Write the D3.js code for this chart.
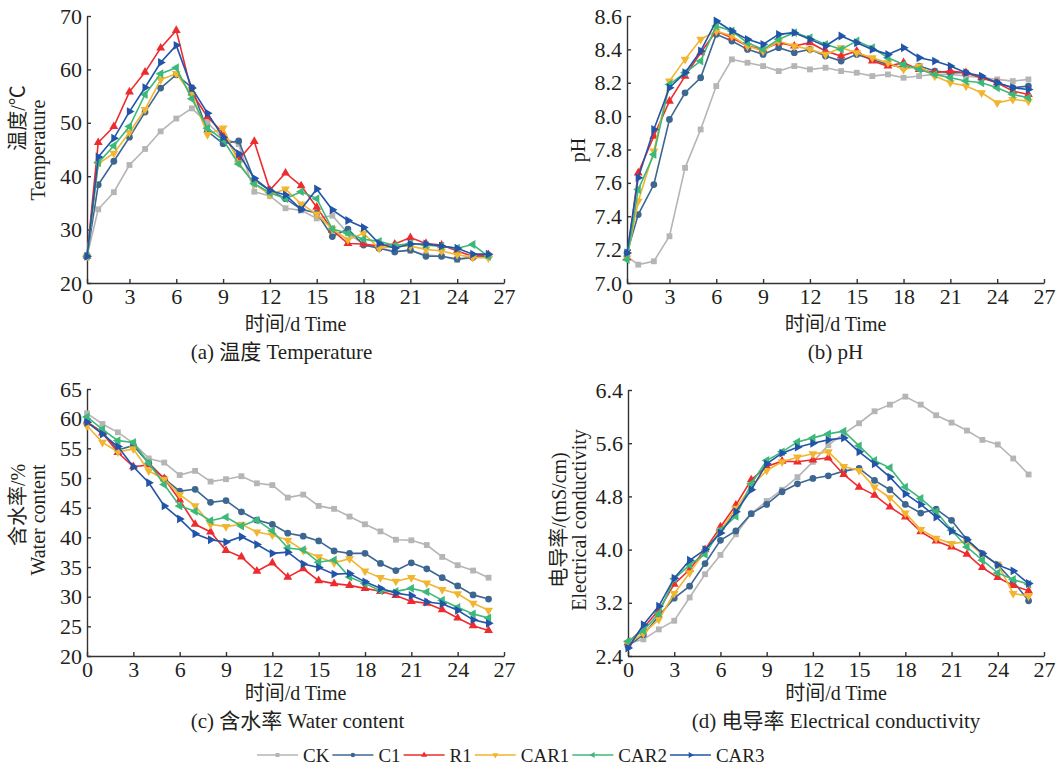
<!DOCTYPE html>
<html>
<head>
<meta charset="utf-8">
<script src="https://cdn.jsdelivr.net/npm/d3@7"></script>
<style>
body { margin: 0; background: #fff; }
svg text { font-family: "Liberation Serif", "Times New Roman", "Noto Sans CJK SC", serif; fill: #231f20; }
</style>
</head>
<body>
<svg id="chart" width="1062" height="768"></svg>
<script>
var days = [0, 1, 2, 3, 4, 5, 6, 7, 8, 9, 10, 11, 12, 13, 14, 15, 16, 17, 18, 19, 20, 21, 22, 23, 24, 25, 26];
var xTicks = [0, 3, 6, 9, 12, 15, 18, 21, 24, 27];

var seriesNames = ["CK", "C1", "R1", "CAR1", "CAR2", "CAR3"];
var seriesColors = ["#b5b5b5", "#3d6790", "#ee2b2e", "#f1b52f", "#3cb97a", "#2254a8"];

// (a) temperature
var tempCK   = [25.0, 33.8, 37.0, 42.1, 45.1, 48.4, 50.8, 52.7, 50.0, 47.2, 46.0, 37.1, 36.3, 34.0, 33.6, 32.1, 32.6, 29.3, 27.3, 26.5, 26.0, 26.0, 25.3, 25.0, 24.3, 24.8, 25.0];
var tempC1   = [25.0, 38.4, 42.8, 47.3, 52.0, 56.5, 59.0, 56.6, 48.4, 46.1, 46.6, 39.3, 37.3, 35.8, 33.8, 33.1, 28.7, 30.1, 27.1, 26.5, 25.8, 26.2, 25.0, 25.0, 24.5, 24.8, 25.0];
var tempR1   = [25.0, 46.3, 49.3, 55.8, 59.5, 64.0, 67.3, 55.6, 51.1, 48.1, 43.1, 46.5, 37.4, 40.6, 38.2, 34.2, 29.9, 27.4, 27.3, 26.9, 27.3, 28.5, 27.4, 27.1, 26.0, 25.0, 25.3];
var tempCAR1 = [25.0, 42.3, 44.3, 48.2, 52.5, 58.1, 59.2, 55.3, 47.8, 49.0, 42.5, 38.6, 36.5, 37.6, 34.8, 32.9, 30.1, 28.1, 29.3, 26.5, 26.9, 26.9, 26.3, 26.0, 25.3, 24.8, 24.7];
var tempCAR2 = [25.0, 42.5, 45.7, 49.3, 55.3, 59.2, 60.3, 54.5, 49.0, 46.8, 42.3, 38.6, 36.9, 35.8, 37.1, 35.8, 30.1, 29.3, 28.2, 27.8, 27.0, 27.4, 27.1, 26.9, 26.5, 27.2, 25.0];
var tempCAR3 = [25.0, 43.6, 47.1, 52.1, 56.6, 61.3, 64.5, 56.5, 51.8, 47.3, 44.2, 39.6, 37.3, 36.5, 33.8, 37.6, 33.7, 31.7, 30.4, 27.4, 26.5, 27.3, 27.3, 26.9, 26.5, 25.4, 25.4];
var tempTicks = [20, 30, 40, 50, 60, 70];

// (b) pH
var phCK   = [7.16, 7.11, 7.13, 7.28, 7.69, 7.92, 8.18, 8.34, 8.32, 8.30, 8.27, 8.30, 8.28, 8.29, 8.27, 8.26, 8.24, 8.25, 8.23, 8.24, 8.25, 8.25, 8.24, 8.23, 8.22, 8.21, 8.22];
var phC1   = [7.18, 7.41, 7.59, 7.98, 8.14, 8.23, 8.49, 8.45, 8.40, 8.37, 8.41, 8.38, 8.40, 8.36, 8.33, 8.37, 8.34, 8.31, 8.29, 8.30, 8.27, 8.26, 8.26, 8.23, 8.20, 8.17, 8.18];
var phR1   = [7.15, 7.66, 7.88, 8.09, 8.24, 8.38, 8.51, 8.47, 8.42, 8.40, 8.44, 8.42, 8.44, 8.39, 8.36, 8.39, 8.33, 8.30, 8.32, 8.28, 8.26, 8.27, 8.26, 8.23, 8.20, 8.15, 8.13];
var phCAR1 = [7.15, 7.49, 7.79, 8.21, 8.34, 8.46, 8.51, 8.48, 8.42, 8.39, 8.45, 8.42, 8.40, 8.37, 8.41, 8.38, 8.35, 8.32, 8.28, 8.30, 8.24, 8.20, 8.18, 8.14, 8.08, 8.10, 8.09];
var phCAR2 = [7.14, 7.56, 7.77, 8.19, 8.26, 8.33, 8.54, 8.51, 8.44, 8.40, 8.46, 8.50, 8.47, 8.43, 8.40, 8.45, 8.41, 8.35, 8.31, 8.28, 8.25, 8.23, 8.21, 8.20, 8.17, 8.13, 8.11];
var phCAR3 = [7.18, 7.63, 7.92, 8.17, 8.26, 8.39, 8.57, 8.51, 8.46, 8.43, 8.49, 8.50, 8.46, 8.42, 8.48, 8.44, 8.40, 8.37, 8.41, 8.35, 8.33, 8.30, 8.26, 8.24, 8.20, 8.17, 8.16];
var phTicks = [7.0, 7.2, 7.4, 7.6, 7.8, 8.0, 8.2, 8.4, 8.6];

// (c) water content
var waterCK   = [60.9, 59.1, 57.7, 55.9, 53.3, 52.6, 50.5, 51.2, 49.4, 49.8, 50.3, 49.1, 48.8, 46.7, 47.2, 45.3, 44.8, 43.5, 42.2, 41.0, 39.6, 39.5, 38.7, 36.7, 35.3, 34.4, 33.2];
var waterC1   = [59.4, 57.7, 54.7, 55.5, 52.5, 49.9, 47.8, 48.1, 45.9, 46.2, 44.3, 42.9, 42.2, 40.7, 40.2, 39.4, 37.7, 37.3, 37.3, 35.6, 34.4, 35.7, 34.7, 33.2, 31.8, 30.3, 29.6];
var waterR1   = [59.5, 57.6, 54.3, 51.9, 52.2, 49.9, 46.3, 42.2, 40.9, 37.8, 36.7, 34.3, 35.7, 33.3, 34.7, 32.7, 32.2, 31.9, 31.4, 30.9, 30.2, 29.2, 28.9, 27.8, 26.4, 25.1, 24.3];
var waterCAR1 = [58.8, 56.0, 54.4, 54.9, 51.2, 49.8, 47.2, 45.3, 42.2, 41.8, 42.2, 40.9, 40.4, 39.5, 37.8, 36.7, 35.7, 36.4, 34.3, 33.2, 32.6, 33.2, 32.3, 31.2, 30.5, 28.9, 27.7];
var waterCAR2 = [60.3, 58.2, 56.3, 56.0, 52.5, 48.9, 45.3, 44.4, 42.8, 43.4, 41.9, 42.9, 41.1, 38.2, 37.9, 35.8, 36.2, 33.3, 32.2, 31.0, 30.9, 31.4, 30.8, 29.4, 28.2, 27.1, 26.4];
var waterCAR3 = [59.4, 57.4, 55.3, 51.9, 49.2, 45.3, 43.1, 40.6, 39.6, 39.2, 40.1, 38.8, 37.3, 37.5, 35.5, 34.9, 33.8, 33.9, 32.5, 31.4, 30.6, 30.2, 29.1, 28.8, 27.7, 26.1, 25.5];
var waterTicks = [20, 25, 30, 35, 40, 45, 50, 55, 60, 65];

// (d) electrical conductivity
var ecCK   = [2.59, 2.65, 2.80, 2.93, 3.28, 3.63, 3.92, 4.23, 4.54, 4.73, 4.90, 5.09, 5.32, 5.57, 5.74, 5.90, 6.08, 6.18, 6.30, 6.18, 6.02, 5.91, 5.79, 5.65, 5.58, 5.37, 5.13];
var ecC1   = [2.55, 2.72, 3.00, 3.27, 3.45, 3.79, 4.14, 4.28, 4.54, 4.68, 4.87, 4.99, 5.07, 5.11, 5.18, 5.22, 5.04, 4.90, 4.68, 4.55, 4.61, 4.44, 4.15, 3.94, 3.77, 3.52, 3.23];
var ecR1   = [2.60, 2.82, 3.09, 3.48, 3.70, 4.00, 4.34, 4.67, 5.05, 5.25, 5.33, 5.32, 5.35, 5.38, 5.13, 4.94, 4.82, 4.64, 4.49, 4.27, 4.13, 4.04, 3.93, 3.73, 3.58, 3.46, 3.38];
var ecCAR1 = [2.58, 2.74, 2.95, 3.34, 3.65, 3.97, 4.29, 4.62, 4.95, 5.19, 5.32, 5.39, 5.44, 5.47, 5.25, 5.19, 4.94, 4.78, 4.55, 4.30, 4.17, 4.09, 4.12, 3.93, 3.78, 3.34, 3.30];
var ecCAR2 = [2.62, 2.78, 3.04, 3.56, 3.77, 3.93, 4.29, 4.50, 4.99, 5.34, 5.47, 5.62, 5.68, 5.74, 5.78, 5.56, 5.34, 5.23, 4.94, 4.77, 4.57, 4.29, 4.04, 3.84, 3.65, 3.55, 3.48];
var ecCAR3 = [2.52, 2.87, 3.15, 3.57, 3.84, 4.00, 4.25, 4.57, 4.90, 5.29, 5.45, 5.54, 5.60, 5.65, 5.68, 5.47, 5.29, 5.09, 4.84, 4.68, 4.49, 4.28, 4.15, 3.94, 3.77, 3.68, 3.49];
var ecTicks = [2.4, 3.2, 4.0, 4.8, 5.6, 6.4];

var svg = d3.select("#chart");

// marker shape + rotation for each series
function marker(i, size) {
    var types = [d3.symbolSquare, d3.symbolCircle, d3.symbolTriangle, d3.symbolTriangle, d3.symbolTriangle, d3.symbolTriangle];
    return d3.symbol().type(types[i]).size(size)();
}
var markerRot = [0, 0, 0, 180, -90, 90];

function drawPanel(p) {
    // top panels have the first day sitting on the axis line
    var x = d3.scaleLinear().domain([p.x0, 27]).range([p.left, p.right]).clamp(true);
    var y = d3.scaleLinear().domain([p.ticks[0], p.ticks[p.ticks.length - 1]]).range([p.bottom, p.top]);
    var g = svg.append("g");

    var xa = g.append("g")
        .attr("transform", "translate(0," + p.bottom + ")")
        .call(d3.axisBottom(x).tickValues(xTicks).tickSizeInner(-4).tickSizeOuter(0).tickPadding(5));
    var ya = g.append("g")
        .attr("transform", "translate(" + p.left + ",0)")
        .call(d3.axisLeft(y).tickValues(p.ticks).tickFormat(d3.format(p.fmt)).tickSizeInner(-4).tickSizeOuter(0).tickPadding(5));
    [xa, ya].forEach(function (a) {
        a.selectAll("path, line").attr("stroke", "#333").attr("stroke-width", 1.4);
        a.selectAll("text").attr("font-size", 22).attr("fill", "#231f20");
    });

    p.series.forEach(function (vals, i) {
        var pts = days.map(function (d, j) { return [d, vals[j]]; });
        g.append("path")
            .datum(pts)
            .attr("fill", "none")
            .attr("stroke", seriesColors[i])
            .attr("stroke-width", 1.6)
            .attr("d", d3.line().x(function (d) { return x(d[0]); }).y(function (d) { return y(d[1]); }));
        g.selectAll(null)
            .data(pts)
            .enter()
            .append("path")
            .attr("d", marker(i, i == 1 ? 36 : 34))
            .attr("fill", seriesColors[i])
            .attr("transform", function (d) { return "translate(" + x(d[0]) + "," + y(d[1]) + ") rotate(" + markerRot[i] + ")"; });
    });

    var mid = (p.left + p.right) / 2;
    g.append("text").attr("x", mid).attr("y", p.bottom + p.titleDy).attr("text-anchor", "middle")
        .attr("font-size", 20).text("时间/d Time");
    g.append("text").attr("x", mid + p.capDx).attr("y", p.bottom + p.titleDy + 28).attr("text-anchor", "middle")
        .attr("font-size", 21).text(p.caption);

    p.ylabel.forEach(function (t, k) {
        g.append("text")
            .attr("transform", "translate(" + (p.left - p.ylabelDx + k * 20) + "," + p.ylabelY[k] + ") rotate(-90)")
            .attr("text-anchor", "middle")
            .attr("font-size", 20)
            .text(t);
    });
}

drawPanel({ left: 87, right: 504, top: 16, bottom: 283, x0: 0.28, ticks: tempTicks, fmt: "d",
    series: [tempCK, tempC1, tempR1, tempCAR1, tempCAR2, tempCAR3], titleDy: 48,
    caption: "(a) 温度 Temperature", capDx: -14, ylabel: ["温度/℃", "Temperature"], ylabelDx: 62, ylabelY: [118, 150] });
drawPanel({ left: 627, right: 1044, top: 16, bottom: 283, x0: 0.28, ticks: phTicks, fmt: ".1f",
    series: [phCK, phC1, phR1, phCAR1, phCAR2, phCAR3], titleDy: 48,
    caption: "(b) pH", capDx: 0, ylabel: ["pH"], ylabelDx: 42, ylabelY: [150] });
drawPanel({ left: 87, right: 504, top: 389, bottom: 656, x0: 0, ticks: waterTicks, fmt: "d",
    series: [waterCK, waterC1, waterR1, waterCAR1, waterCAR2, waterCAR3], titleDy: 44,
    caption: "(c) 含水率 Water content", capDx: 2, ylabel: ["含水率/%", "Water content"], ylabelDx: 62, ylabelY: [505, 520] });
drawPanel({ left: 628, right: 1044, top: 390, bottom: 656, x0: 0, ticks: ecTicks, fmt: ".1f",
    series: [ecCK, ecC1, ecR1, ecCAR1, ecCAR2, ecCAR3], titleDy: 44,
    caption: "(d) 电导率 Electrical conductivity", capDx: 0, ylabel: ["电导率/(mS/cm)", "Electrical conductivity"], ylabelDx: 62, ylabelY: [520, 520] });

// legend along the bottom
var legend = svg.append("g");
var lx = 257, ly = 755;
seriesNames.forEach(function (name, i) {
    legend.append("line").attr("x1", lx).attr("x2", lx + 41).attr("y1", ly).attr("y2", ly)
        .attr("stroke", seriesColors[i]).attr("stroke-width", 1.6);
    legend.append("path").attr("d", marker(i, 16)).attr("fill", seriesColors[i])
        .attr("transform", "translate(" + (lx + 20.5) + "," + ly + ") rotate(" + markerRot[i] + ")");
    var t = legend.append("text").attr("x", lx + 46).attr("y", ly + 6.5).attr("font-size", 19).text(name);
    lx = lx + 46 + t.node().getComputedTextLength() + 3;
});
</script>
</body>
</html>
